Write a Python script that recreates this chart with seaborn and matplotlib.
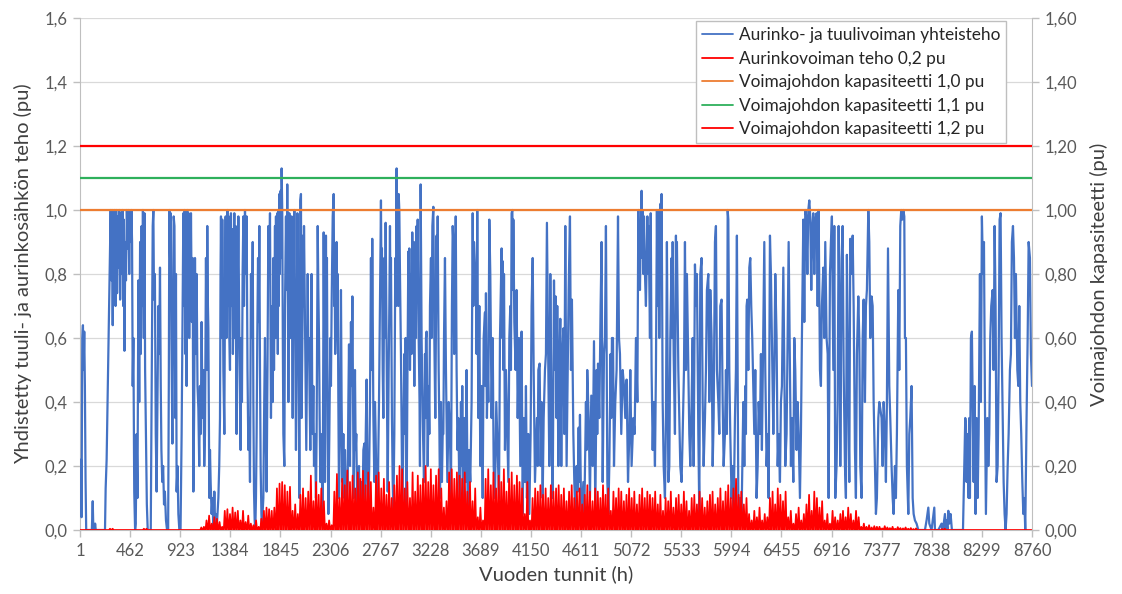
import numpy as np
import pandas as pd
import matplotlib
matplotlib.use("Agg")
import matplotlib.pyplot as plt
from matplotlib.lines import Line2D
from matplotlib.ticker import FixedLocator, FuncFormatter
import seaborn as sns

# Combined wind + solar output (pu), as (hour, value) turning points of the hourly curve
combined_jan_feb = [
    (1, 0.21), (5, 0.05), (10, 0.22), (15, 0.04), (22, 0.6), (28, 0.64), (34, 0.5), (40, 0.62), (46, 0.45), (52, 0.16),
    (58, 0.0), (110, 0.0), (118, 0.09), (124, 0.0), (136, 0.0), (140, 0.02), (146, 0.0), (231, 0.0), (237, 0.13), (246, 0.22),
    (253, 0.37), (262, 0.55), (271, 0.75), (283, 1.0), (290, 0.78), (296, 1.0), (302, 0.64), (308, 0.98), (314, 0.85), (320, 1.0),
    (328, 0.7), (334, 1.0), (342, 0.74), (348, 0.98), (356, 0.82), (362, 1.0), (370, 0.72), (378, 0.99), (384, 0.8), (392, 1.0),
    (398, 0.7), (404, 0.97), (410, 0.56), (418, 0.9), (424, 0.78), (432, 1.0), (440, 0.88), (448, 1.0), (454, 0.8), (460, 0.99),
    (468, 0.9), (474, 1.0), (480, 0.9), (486, 0.45), (492, 0.6), (500, 0.12), (508, 0.0), (514, 0.02), (522, 0.3), (530, 0.1),
    (538, 0.78), (546, 0.4), (554, 0.9), (560, 0.55), (568, 0.95), (574, 0.7), (580, 1.0), (588, 0.6), (594, 0.99), (600, 0.5),
    (608, 0.3), (616, 0.08), (624, 0.0), (652, 0.0), (662, 0.55), (670, 0.95), (676, 1.0), (682, 0.72), (690, 0.8), (698, 0.3),
    (706, 0.12), (714, 0.4), (722, 0.7), (730, 0.55), (737, 0.82), (744, 0.45), (750, 0.25), (758, 0.15), (766, 0.2), (774, 0.08),
    (782, 0.12), (792, 0.03), (802, 0.0), (812, 0.0), (818, 0.45), (823, 1.0), (830, 0.85), (836, 0.99), (842, 0.6), (851, 0.27),
    (858, 0.7), (863, 0.98), (870, 0.95), (878, 0.35), (884, 0.8), (890, 0.12), (898, 0.2), (906, 0.05), (915, 0.0), (926, 0.0),
    (936, 0.3), (946, 0.75), (952, 0.99), (958, 0.7), (964, 1.0), (970, 0.55), (976, 0.95), (982, 0.45), (988, 1.0), (994, 0.75),
    (1000, 0.99), (1006, 0.6), (1013, 0.97), (1018, 0.7), (1022, 0.99), (1030, 0.65), (1038, 0.85), (1044, 0.12), (1052, 0.4), (1059, 0.85),
    (1066, 0.55), (1074, 0.8), (1082, 0.45), (1090, 0.38), (1098, 0.2), (1105, 0.45), (1112, 0.3), (1120, 0.65), (1128, 0.35), (1136, 0.5),
    (1144, 0.2), (1151, 0.3), (1160, 0.85), (1166, 0.5), (1172, 0.95), (1178, 0.7), (1182, 0.63), (1191, 0.1), (1197, 0.25), (1203, 0.15),
    (1212, 0.05), (1220, 0.1), (1228, 0.0), (1237, 0.12), (1244, 0.02), (1249, 0.05), (1258, 0.0), (1266, 0.05), (1274, 0.1), (1282, 0.2),
    (1289, 0.35), (1294, 0.8), (1298, 0.98), (1304, 0.6), (1310, 0.97), (1316, 0.75), (1320, 0.5), (1329, 0.3), (1335, 0.75), (1341, 0.98),
    (1348, 0.6), (1357, 1.0), (1362, 0.7), (1369, 0.98), (1375, 0.6), (1381, 0.5), (1386, 0.85), (1390, 0.99), (1396, 0.7), (1403, 0.94),
    (1408, 0.55), (1412, 0.65),
]
combined_mar_apr = [
    (1417, 0.9), (1421, 0.99), (1427, 0.6), (1433, 0.95), (1438, 0.5), (1442, 0.3), (1450, 0.7), (1458, 0.98),
    (1463, 0.75), (1467, 0.6), (1473, 0.4), (1479, 0.25), (1485, 0.6), (1491, 0.4), (1497, 0.8), (1504, 0.98), (1510, 0.7), (1519, 1.0),
    (1526, 0.8), (1534, 0.98), (1542, 0.5), (1550, 0.25), (1558, 0.35), (1565, 0.15), (1574, 0.8), (1582, 0.6), (1590, 0.9), (1596, 0.4),
    (1602, 0.12), (1608, 0.03), (1614, 0.0), (1620, 0.1), (1626, 0.3), (1632, 0.6), (1639, 0.85), (1645, 0.65), (1651, 0.95), (1657, 0.5),
    (1663, 0.2), (1670, 0.05), (1675, 0.0), (1682, 0.06), (1688, 0.1), (1696, 0.4), (1703, 0.6), (1710, 0.3), (1718, 0.12), (1726, 0.5),
    (1734, 0.95), (1742, 0.8), (1749, 0.99), (1758, 0.35), (1764, 0.6), (1770, 0.7), (1775, 0.4), (1780, 0.85), (1786, 0.5), (1795, 0.95),
    (1800, 0.6), (1804, 0.98), (1810, 0.7), (1816, 0.99), (1821, 0.55), (1826, 1.0), (1830, 0.7), (1835, 1.05), (1840, 0.8), (1847, 1.06),
    (1852, 0.85), (1856, 1.13), (1862, 0.99), (1867, 0.6), (1872, 0.3), (1881, 0.2), (1887, 0.7), (1896, 0.98), (1902, 0.75), (1908, 1.08),
    (1913, 0.8), (1918, 0.4), (1927, 0.99), (1933, 0.85), (1939, 0.6), (1948, 0.98), (1953, 0.7), (1958, 0.35), (1964, 0.95), (1969, 0.8),
    (1973, 1.0), (1979, 0.7), (1988, 0.25), (1995, 0.6), (2001, 0.99), (2010, 0.7), (2019, 0.1), (2028, 1.03), (2034, 1.05), (2040, 0.35),
    (2047, 0.6), (2053, 0.92), (2058, 0.7), (2062, 0.95), (2071, 0.65), (2077, 0.45), (2083, 0.25), (2090, 0.55), (2096, 0.8), (2102, 0.55),
    (2108, 0.6), (2114, 0.4), (2120, 0.25), (2126, 0.55), (2132, 0.8), (2137, 0.45), (2142, 0.3), (2148, 0.45), (2154, 0.2), (2163, 0.3),
    (2172, 0.1), (2178, 0.3), (2181, 0.5), (2188, 0.95), (2194, 0.75), (2200, 0.6), (2206, 0.35), (2212, 0.15), (2218, 0.3), (2224, 0.2),
    (2234, 0.05), (2243, 0.93), (2249, 0.5), (2255, 0.15), (2264, 0.92), (2269, 0.6), (2273, 0.85), (2280, 0.3), (2286, 0.05), (2295, 0.3),
    (2304, 0.6), (2310, 0.45), (2316, 0.7), (2326, 0.98), (2335, 1.05), (2340, 0.7), (2344, 0.8), (2349, 0.55), (2353, 0.6), (2362, 0.9),
    (2368, 0.65), (2372, 0.8), (2378, 0.4), (2384, 0.1), (2393, 0.3), (2402, 0.75), (2408, 0.4), (2415, 0.15), (2424, 0.3), (2433, 0.1),
    (2439, 0.25), (2451, 0.05), (2458, 0.1), (2464, 0.15), (2470, 0.4), (2476, 0.58), (2485, 0.2), (2494, 0.65), (2500, 0.45), (2507, 0.73),
    (2513, 0.4), (2519, 0.1), (2525, 0.3), (2531, 0.5), (2537, 0.25), (2543, 0.3), (2550, 0.12), (2556, 0.05), (2562, 0.15), (2568, 0.2),
    (2574, 0.05), (2580, 0.1), (2586, 0.02), (2592, 0.15), (2600, 0.05), (2608, 0.25), (2617, 0.27), (2623, 0.05), (2630, 0.3), (2638, 0.47),
    (2644, 0.2), (2654, 0.05), (2662, 0.2), (2669, 0.4), (2678, 0.85), (2684, 0.5), (2690, 0.91), (2700, 0.36), (2709, 0.15), (2715, 0.4),
    (2721, 0.3), (2730, 0.1), (2740, 0.05), (2746, 0.25), (2752, 0.4), (2761, 0.7), (2770, 1.03), (2775, 0.75), (2779, 0.88), (2786, 0.5),
    (2792, 0.35), (2801, 0.85), (2807, 0.6), (2813, 0.96), (2818, 0.75), (2822, 0.6), (2832, 0.12), (2841, 0.5), (2847, 0.7), (2853, 0.95),
    (2858, 0.65), (2862, 0.85), (2871, 0.35), (2878, 0.15),
]
combined_may_jun = [
    (2884, 0.05), (2893, 0.3), (2902, 0.85), (2908, 0.7), (2914, 1.13), (2919, 0.8), (2924, 0.95), (2929, 0.7),
    (2933, 1.05), (2939, 1.0), (2945, 0.8), (2954, 0.55), (2960, 0.3), (2967, 0.05), (2976, 0.3), (2985, 0.55), (2991, 0.3), (2997, 0.6),
    (3006, 0.05), (3014, 0.5), (3022, 0.87), (3026, 0.6), (3031, 0.88), (3037, 0.5), (3046, 0.8), (3052, 0.55), (3058, 0.93), (3064, 0.7),
    (3068, 0.9), (3077, 0.45), (3086, 0.9), (3092, 0.6), (3098, 0.95), (3103, 0.75), (3108, 0.97), (3117, 0.6), (3125, 0.4), (3129, 0.2),
    (3135, 1.08), (3144, 0.6), (3154, 0.35), (3166, 0.15), (3175, 0.55), (3180, 0.35), (3184, 0.6), (3190, 0.62), (3200, 0.2), (3209, 0.45),
    (3215, 0.3), (3221, 0.7), (3230, 0.85), (3236, 0.6), (3243, 0.95), (3252, 1.01), (3261, 0.6), (3270, 0.35), (3282, 0.92), (3287, 0.7),
    (3292, 0.98), (3301, 0.5), (3308, 0.3), (3313, 0.1), (3322, 0.4), (3331, 0.15), (3338, 0.3), (3344, 0.3), (3350, 0.6), (3359, 0.85),
    (3368, 0.5), (3375, 0.3), (3381, 0.15), (3393, 0.4), (3405, 0.3), (3414, 0.1), (3423, 0.7), (3430, 0.95), (3436, 0.9), (3444, 0.55),
    (3451, 0.75), (3458, 0.98), (3466, 0.5), (3474, 0.25), (3482, 0.35), (3490, 0.15), (3497, 0.05), (3506, 0.4), (3512, 0.2), (3518, 0.45),
    (3528, 0.05), (3537, 0.35), (3549, 0.15), (3558, 0.5), (3568, 0.05), (3580, 0.25), (3592, 0.15), (3604, 0.4), (3614, 0.99), (3620, 0.7),
    (3626, 0.9), (3635, 0.82), (3644, 0.75), (3650, 0.55), (3656, 1.0), (3666, 0.35), (3675, 0.7), (3684, 0.2), (3696, 0.45), (3706, 0.1),
    (3715, 0.6), (3727, 0.68), (3731, 0.45), (3736, 0.74), (3745, 0.35), (3752, 0.5), (3758, 0.4), (3767, 0.97), (3776, 0.8), (3788, 0.35),
    (3798, 0.6), (3807, 0.2), (3819, 0.1), (3831, 0.4), (3844, 0.25), (3856, 0.1), (3865, 0.6), (3880, 0.88), (3885, 0.6), (3890, 0.84),
    (3896, 0.5), (3902, 0.8), (3911, 0.25), (3920, 0.5), (3929, 0.35), (3942, 0.15), (3951, 0.6), (3960, 0.7), (3966, 0.5), (3972, 0.99),
    (3979, 1.0), (3984, 0.75), (3988, 0.97), (3997, 0.65), (4009, 0.5), (4018, 0.75), (4028, 0.35), (4040, 0.6), (4052, 0.2), (4064, 0.62),
    (4074, 0.05), (4083, 0.35), (4095, 0.15), (4104, 0.45), (4113, 0.1), (4126, 0.3), (4135, 0.05), (4147, 0.3), (4156, 0.7), (4166, 0.85),
    (4175, 0.5), (4187, 0.15), (4196, 0.25), (4205, 0.35), (4212, 0.2), (4218, 0.5), (4230, 0.52), (4239, 0.2), (4248, 0.4), (4258, 0.1),
    (4267, 0.35), (4279, 0.5), (4288, 0.55), (4297, 0.96), (4304, 0.7), (4310, 0.5), (4319, 0.2), (4328, 0.8), (4340, 0.3), (4350, 0.1),
]
combined_jul_aug = [
    (4362, 0.78), (4371, 0.5), (4377, 0.73), (4382, 0.6), (4386, 0.35), (4392, 0.7), (4402, 0.2), (4411, 0.5), (4420, 0.66), (4429, 0.2),
    (4438, 0.55), (4448, 0.63), (4457, 0.3), (4466, 0.95), (4472, 0.6), (4478, 0.2), (4488, 0.5), (4497, 0.75), (4509, 0.98), (4518, 0.5),
    (4527, 0.72), (4540, 0.3), (4549, 0.15), (4558, 0.05), (4570, 0.2), (4580, 0.12), (4589, 0.32), (4595, 0.15), (4601, 0.36), (4610, 0.1),
    (4619, 0.05), (4632, 0.15), (4641, 0.05), (4656, 0.4), (4662, 0.25), (4668, 0.5), (4681, 0.35), (4693, 0.1), (4705, 0.42), (4718, 0.2),
    (4730, 0.59), (4742, 0.05), (4754, 0.5), (4760, 0.3), (4767, 0.52), (4779, 0.35), (4791, 0.7), (4800, 0.9), (4810, 0.15), (4822, 0.55),
    (4831, 0.6), (4840, 0.95), (4853, 0.15), (4862, 0.05), (4871, 0.2), (4883, 0.55), (4889, 0.35), (4895, 0.6), (4905, 0.6), (4914, 0.2),
    (4926, 0.4), (4938, 0.5), (4951, 0.98), (4960, 0.6), (4969, 0.55), (4981, 0.3), (4994, 0.5), (5006, 0.45), (5018, 0.35), (5030, 0.47),
    (5043, 0.15), (5055, 0.3), (5064, 0.5), (5076, 0.2), (5092, 0.35), (5104, 0.3), (5116, 0.6), (5129, 0.4), (5138, 1.0), (5143, 0.8),
    (5147, 0.9), (5153, 0.75), (5159, 0.9), (5168, 1.06), (5173, 0.85), (5178, 1.0), (5184, 0.8), (5190, 0.98), (5199, 0.8), (5208, 0.7),
    (5215, 0.85), (5221, 0.98), (5227, 0.8), (5233, 0.95), (5245, 0.6), (5252, 0.99), (5260, 0.5), (5270, 0.25), (5279, 0.4), (5291, 0.2),
    (5300, 0.5), (5309, 1.0), (5315, 0.7), (5322, 1.0), (5331, 0.6), (5343, 1.02), (5348, 0.8), (5352, 1.05), (5362, 0.4), (5371, 0.2),
    (5383, 0.1), (5392, 0.35), (5401, 0.9), (5414, 0.15), (5423, 0.2), (5432, 0.6), (5444, 0.85), (5449, 0.6), (5454, 0.9), (5463, 0.55),
    (5475, 0.3), (5484, 0.92), (5489, 0.7), (5493, 0.9), (5506, 0.5), (5515, 0.35), (5524, 0.2), (5536, 0.15), (5546, 0.3), (5558, 0.5),
    (5567, 0.9), (5576, 0.5), (5585, 0.8), (5598, 0.5), (5607, 0.3), (5616, 0.2), (5628, 0.4), (5638, 0.6), (5647, 0.2), (5659, 0.83),
    (5668, 0.7), (5677, 0.8), (5690, 0.3), (5699, 0.05), (5708, 0.8), (5720, 0.85), (5730, 0.4), (5739, 0.2), (5751, 0.35), (5760, 0.5),
    (5769, 0.75), (5782, 0.8), (5791, 0.4), (5800, 0.75), (5812, 0.6), (5822, 0.2), (5831, 0.35),
]
combined_sep_oct = [
    (5843, 0.9), (5852, 0.95), (5861, 0.5), (5874, 0.4), (5883, 0.3), (5892, 0.7), (5904, 0.72), (5914, 0.4), (5923, 0.2), (5935, 0.3),
    (5944, 0.5), (5953, 0.3), (5960, 1.0), (5966, 0.97), (5975, 0.5), (5984, 0.3), (5996, 0.1), (6006, 0.2), (6015, 0.05), (6027, 0.35),
    (6036, 0.5), (6045, 0.92), (6058, 0.1), (6067, 0.05), (6076, 0.1), (6088, 0.05), (6104, 0.4), (6113, 0.2), (6122, 0.45), (6128, 0.3),
    (6134, 0.7), (6140, 0.72), (6150, 0.5), (6159, 0.82), (6168, 0.85), (6177, 0.7), (6186, 0.6), (6196, 0.45), (6205, 0.3), (6214, 0.5),
    (6226, 0.1), (6236, 0.2), (6245, 0.4), (6257, 0.3), (6266, 0.55), (6275, 0.25), (6288, 0.65), (6297, 0.9), (6306, 0.5), (6318, 0.2),
    (6328, 0.3), (6337, 0.1), (6349, 0.92), (6358, 0.8), (6367, 0.6), (6380, 0.3), (6389, 0.5), (6398, 0.8), (6410, 0.6), (6420, 0.2),
    (6429, 0.3), (6441, 0.15), (6450, 0.4), (6459, 0.45), (6472, 0.82), (6481, 0.5), (6490, 0.2), (6502, 0.3), (6512, 0.6), (6521, 0.9),
    (6533, 0.5), (6542, 0.2), (6551, 0.35), (6564, 0.15), (6573, 0.6), (6582, 0.5), (6594, 0.25), (6604, 0.4), (6613, 0.3), (6625, 0.1),
    (6634, 0.3), (6643, 0.6), (6656, 0.97), (6665, 0.65), (6674, 1.0), (6683, 0.98), (6693, 0.8), (6702, 1.0), (6711, 1.03), (6720, 0.98),
    (6729, 0.75), (6739, 0.95), (6748, 0.99), (6757, 0.8), (6766, 0.97), (6778, 0.99), (6788, 0.7), (6797, 1.0), (6809, 0.5), (6818, 0.45),
    (6827, 0.7), (6840, 0.82), (6849, 0.6), (6858, 0.9), (6870, 0.6), (6880, 0.55), (6889, 0.1), (6901, 0.8), (6910, 0.9), (6919, 0.98),
    (6932, 0.5), (6941, 0.95), (6950, 0.1), (6962, 0.2), (6972, 0.4), (6981, 0.95), (6993, 0.5), (6996, 0.2), (7008, 0.85), (7018, 0.95),
    (7027, 0.5), (7039, 0.2), (7048, 0.1), (7057, 0.86), (7070, 0.4), (7079, 0.15), (7088, 0.91), (7100, 0.8), (7110, 0.92), (7119, 0.7),
    (7131, 0.25), (7140, 0.1), (7149, 0.55), (7162, 0.73), (7171, 0.6), (7180, 0.2), (7192, 0.1), (7202, 0.6), (7211, 0.72), (7223, 0.4),
    (7232, 0.7), (7241, 0.75), (7254, 1.0), (7263, 0.9), (7272, 0.6), (7284, 0.73), (7294, 0.7),
]
combined_nov_dec = [
    (7303, 0.4), (7315, 0.2), (7324, 0.05), (7333, 0.1), (7346, 0.35), (7355, 0.4), (7364, 0.38), (7376, 0.35), (7386, 0.2), (7395, 0.4),
    (7407, 0.3), (7416, 0.15), (7425, 0.4), (7435, 0.88), (7447, 0.45), (7456, 0.35), (7468, 0.2), (7478, 0.1), (7487, 0.05), (7499, 0.2),
    (7508, 0.1), (7517, 0.3), (7530, 0.75), (7539, 0.5), (7548, 0.95), (7557, 1.0), (7567, 0.97), (7576, 1.0), (7585, 0.98), (7591, 0.6),
    (7600, 0.6), (7609, 0.2), (7622, 0.05), (7631, 0.3), (7640, 0.35), (7652, 0.45), (7662, 0.1), (7671, 0.05), (7683, 0.03), (7698, 0.02),
    (7714, 0.0), (7775, 0.0), (7790, 0.03), (7806, 0.07), (7815, 0.02), (7836, 0.0), (7861, 0.07), (7867, 0.0), (7898, 0.0), (7928, 0.02),
    (7936, 0.0), (7944, 0.01), (7959, 0.05), (7966, 0.0), (7974, 0.03), (7982, 0.0), (7990, 0.06), (7999, 0.02), (8011, 0.05), (8023, 0.0),
    (8125, 0.0), (8137, 0.2), (8146, 0.35), (8152, 0.33), (8158, 0.15), (8168, 0.3), (8177, 0.1), (8183, 0.35), (8189, 0.1), (8198, 0.6),
    (8207, 0.62), (8214, 0.4), (8223, 0.15), (8232, 0.45), (8241, 0.05), (8250, 0.35), (8260, 0.1), (8269, 0.3), (8281, 0.8), (8290, 0.4),
    (8299, 0.98), (8309, 0.8), (8318, 0.9), (8327, 0.4), (8336, 0.05), (8349, 0.35), (8358, 0.2), (8367, 0.3), (8376, 0.6), (8385, 0.7),
    (8398, 0.75), (8407, 0.5), (8416, 0.95), (8425, 0.7), (8434, 0.15), (8444, 0.2), (8453, 0.5), (8462, 0.97), (8471, 0.99), (8480, 0.6),
    (8490, 0.35), (8499, 0.15), (8508, 0.05), (8517, 0.0), (8526, 0.05), (8536, 0.2), (8545, 0.3), (8557, 0.5), (8566, 0.55), (8575, 0.9),
    (8585, 0.95), (8594, 0.85), (8603, 0.6), (8612, 0.8), (8625, 0.5), (8634, 0.45), (8643, 0.7), (8652, 0.4), (8661, 0.3), (8671, 0.15),
    (8680, 0.05), (8689, 0.1), (8698, 0.0), (8710, 0.35), (8720, 0.6), (8729, 0.9), (8741, 0.85), (8750, 0.55), (8760, 0.45),
]

# Daily peak of the solar output (pu, 0.2 pu plant), one value per day of the year
solar_peak_q1 = [
    0, 0, 0, 0, 0, 0, 0, 0, 0, 0,
    0, 0.004, 0.004, 0, 0, 0, 0, 0, 0, 0,
    0, 0, 0, 0, 0.004, 0.004, 0, 0, 0, 0,
    0, 0, 0, 0, 0, 0, 0, 0, 0, 0,
    0, 0, 0, 0, 0, 0, 0.008, 0.01, 0.03, 0.045,
    0.02, 0.04, 0.035, 0.025, 0.01, 0.06, 0.065, 0.05, 0.07, 0.055,
    0.06, 0.03, 0.06, 0.025, 0.045, 0.02, 0.015, 0.03, 0.01, 0.035,
    0.06, 0.07, 0.065, 0.06, 0.07, 0.13, 0.145, 0.15, 0.14, 0.12,
    0.135, 0.06, 0.08, 0.05, 0.11, 0.13, 0.1, 0.12, 0.17, 0.09,
]
solar_peak_q2 = [
    0.15, 0.11, 0.13, 0.09, 0.02, 0.03, 0.015, 0.12, 0.175, 0.1,
    0.16, 0.14, 0.186, 0.15, 0.17, 0.13, 0.18, 0.16, 0.185, 0.14,
    0.18, 0.15, 0.07, 0.17, 0.18, 0.13, 0.16, 0.11, 0.15, 0.1,
    0.14, 0.17, 0.2, 0.19, 0.13, 0.15, 0.1, 0.18, 0.12, 0.17,
    0.14, 0.16, 0.2, 0.15, 0.19, 0.14, 0.17, 0.19, 0.13, 0.07,
    0.09, 0.18, 0.19, 0.16, 0.18, 0.17, 0.16, 0.18, 0.12, 0.15,
    0.09, 0.13, 0.04, 0.07, 0.03, 0.16, 0.19, 0.14, 0.18, 0.13,
    0.17, 0.15, 0.19, 0.12, 0.16, 0.18, 0.14, 0.17, 0.15, 0.13,
    0.05, 0.15, 0.03, 0.1, 0.13, 0.12, 0.14, 0.11, 0.13, 0.1,
]
solar_peak_q3 = [
    0.14, 0.12, 0.13, 0.14, 0.11, 0.13, 0.09, 0.12, 0.14, 0.1,
    0.12, 0.13, 0.08, 0.11, 0.14, 0.12, 0.09, 0.13, 0.12, 0.1,
    0.14, 0.11, 0.13, 0.06, 0.12, 0.1, 0.13, 0.12, 0.09, 0.11,
    0.13, 0.1, 0.12, 0.08, 0.11, 0.13, 0.1, 0.12, 0.11, 0.1,
    0.12, 0.08, 0.11, 0.06, 0.1, 0.09, 0.12, 0.07, 0.1, 0.11,
    0.08, 0.12, 0.09, 0.06, 0.1, 0.11, 0.08, 0.12, 0.1, 0.07,
    0.09, 0.11, 0.12, 0.08, 0.1, 0.13, 0.09, 0.12, 0.14, 0.1,
    0.13, 0.16, 0.11, 0.12, 0.08, 0.1, 0.05, 0.03, 0.06, 0.04,
    0.07, 0.03, 0.05, 0.04, 0.1, 0.12, 0.08, 0.13, 0.11, 0.09,
]
solar_peak_q4 = [
    0.12, 0.04, 0.06, 0.02, 0.05, 0.07, 0.03, 0.05, 0.08, 0.11,
    0.06, 0.12, 0.1, 0.07, 0.09, 0.03, 0.05, 0.02, 0.06, 0.04,
    0.03, 0.05, 0.06, 0.04, 0.07, 0.05, 0.03, 0.06, 0.04, 0.01,
    0.02, 0.01, 0.015, 0.008, 0.012, 0.01, 0.01, 0.005, 0.012, 0.008,
    0.006, 0.01, 0.004, 0.009, 0.006, 0.005, 0.008, 0.004, 0.006, 0.003,
    0.005, 0, 0, 0, 0, 0, 0, 0, 0, 0,
    0.003, 0.004, 0, 0, 0, 0, 0, 0, 0, 0,
    0, 0, 0, 0, 0, 0, 0, 0, 0, 0,
    0, 0, 0, 0, 0, 0, 0, 0, 0, 0,
    0, 0, 0, 0, 0,
]

# Transmission line capacities (pu)
capacities = [1.0, 1.1, 1.2]
capacity_colors = ["#ED7D31", "#2EB05C", "#FF0000"]

series_labels = [
    "Aurinko- ja tuulivoiman yhteisteho",
    "Aurinkovoiman teho 0,2 pu",
    "Voimajohdon kapasiteetti 1,0 pu",
    "Voimajohdon kapasiteetti 1,1 pu",
    "Voimajohdon kapasiteetti 1,2 pu",
]
x_tick_hours = [1, 462, 923, 1384, 1845, 2306, 2767, 3228, 3689, 4150,
                4611, 5072, 5533, 5994, 6455, 6916, 7377, 7838, 8299, 8760]
y_ticks = [0.0, 0.2, 0.4, 0.6, 0.8, 1.0, 1.2, 1.4, 1.6]

BLUE = "#4472C4"
RED = "#FF0000"
TXT = "#595959"
LBL = "#404040"

sns.set_style("white")
plt.rcParams["font.family"] = ["Lato", "DejaVu Sans"]

# ---- tidy frames ----
combined = pd.DataFrame(
    combined_jan_feb + combined_mar_apr + combined_may_jun
    + combined_jul_aug + combined_sep_oct + combined_nov_dec,
    columns=["hour", "pu"],
)

peaks = np.array(solar_peak_q1 + solar_peak_q2 + solar_peak_q3 + solar_peak_q4, dtype=float)
day = np.arange(len(peaks))
# each day: zero through the night, peak around midday
sx = np.column_stack([day * 24 + 4, day * 24 + 13, day * 24 + 22]).ravel()
sy = np.column_stack([np.zeros_like(peaks), peaks, np.zeros_like(peaks)]).ravel()
solar = pd.DataFrame({"hour": np.concatenate([[1], sx, [8760]]),
                      "pu": np.concatenate([[0.0], sy, [0.0]])})

fig = plt.figure(figsize=(11.22, 5.94), dpi=100)
ax = fig.add_axes([80 / 1122, 1 - 530 / 594, (1032 - 80) / 1122, (530 - 18) / 594])

sns.lineplot(data=combined, x="hour", y="pu", ax=ax, color=BLUE, lw=1.6,
             estimator=None, sort=False, zorder=3)
sns.lineplot(data=solar, x="hour", y="pu", ax=ax, color=RED, lw=1.25,
             estimator=None, sort=False, zorder=4)

ax2 = ax.twinx()
for cap, col in zip(capacities, capacity_colors):
    sns.lineplot(x=[1, 8760], y=[cap, cap], ax=ax2, color=col, lw=1.6,
                 estimator=None, sort=False, zorder=5)

for a in (ax, ax2):
    a.set_xlim(1, 8760)
    a.set_ylim(0, 1.6)
    a.yaxis.set_major_locator(FixedLocator(y_ticks))

ax.yaxis.grid(True, color="#D9D9D9", lw=0.9)
ax.set_axisbelow(True)
ax.set_xticks(x_tick_hours)
ax.set_xticklabels([str(h) for h in x_tick_hours])
ax.yaxis.set_major_formatter(FuncFormatter(lambda v, _: f"{v:.1f}".replace(".", ",")))
ax2.yaxis.set_major_formatter(FuncFormatter(lambda v, _: f"{v:.2f}".replace(".", ",")))

for a in (ax, ax2):
    for s in a.spines.values():
        s.set_visible(False)
ax.spines["left"].set_visible(True)
ax.spines["left"].set_color("#BFBFBF")
ax.spines["bottom"].set_visible(True)
ax.spines["bottom"].set_color("#BFBFBF")
ax2.spines["right"].set_visible(True)
ax2.spines["right"].set_color("#BFBFBF")

ax.tick_params(axis="x", which="major", length=5, width=1, color="#BFBFBF",
               labelsize=12, labelcolor=TXT, pad=4, direction="out", bottom=True)
ax.tick_params(axis="y", which="major", length=5, width=1, color="#BFBFBF",
               labelsize=12, labelcolor=TXT, pad=4, left=True)
ax2.tick_params(axis="y", which="major", length=5, width=1, color="#BFBFBF",
                labelsize=12, labelcolor=TXT, pad=4, right=True)

ax.set_xlabel("Vuoden tunnit (h)", fontsize=14.5, color=LBL, labelpad=5)
ax.set_ylabel("Yhdistetty tuuli- ja aurinkosähkön teho (pu)", fontsize=14.5, color=LBL, labelpad=9)
ax2.set_ylabel("Voimajohdon kapasiteetti (pu)", fontsize=14.5, color=LBL, labelpad=9)

handles = [Line2D([], [], color=BLUE, lw=1.3), Line2D([], [], color=RED, lw=1.3)] + \
          [Line2D([], [], color=c, lw=1.3) for c in capacity_colors]
leg = fig.legend(handles, series_labels, loc="upper right",
                 bbox_to_anchor=(1006 / 1122, 1 - 21 / 594), fontsize=12.4,
                 frameon=True, fancybox=False, framealpha=1, edgecolor="#BFBFBF",
                 handlelength=1.8, handletextpad=0.3, labelspacing=0.44,
                 borderpad=0.35, borderaxespad=0)
leg.get_frame().set_linewidth(1.0)
for t in leg.get_texts():
    t.set_color("#262626")

fig.savefig("out.png", dpi=100)
